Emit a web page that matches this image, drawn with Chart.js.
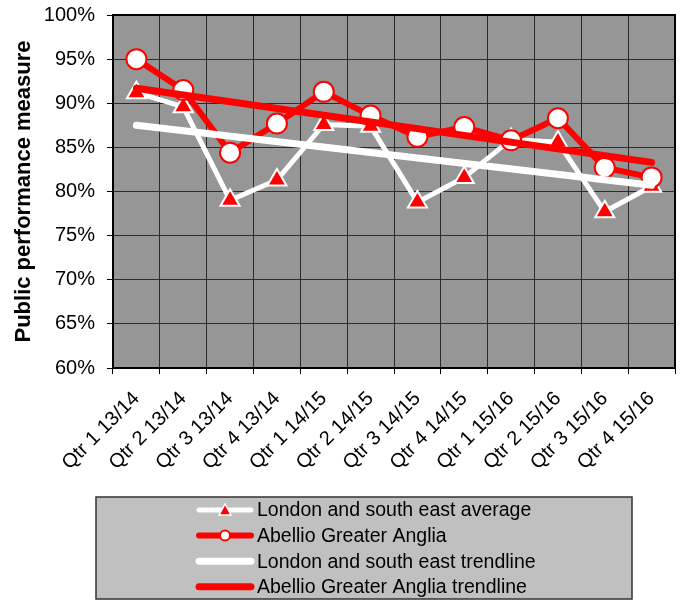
<!DOCTYPE html>
<html>
<head>
<meta charset="utf-8">
<script src="https://cdn.jsdelivr.net/npm/chart.js@4.4.1/dist/chart.umd.min.js"></script>
<style>
  html, body { margin: 0; padding: 0; background: #fff; }
  #wrap { width: 680px; height: 601px; position: relative; }
</style>
</head>
<body>
<div id="wrap"><canvas id="ppmChart" width="680" height="601"></canvas></div>
<script>
// quarters on the x axis
var quarters = ['Qtr 1 13/14', 'Qtr 2 13/14', 'Qtr 3 13/14', 'Qtr 4 13/14',
                'Qtr 1 14/15', 'Qtr 2 14/15', 'Qtr 3 14/15', 'Qtr 4 14/15',
                'Qtr 1 15/16', 'Qtr 2 15/16', 'Qtr 3 15/16', 'Qtr 4 15/16'];

// PPM values in percent
var londonAvg = [91.2, 89.6, 79.0, 81.3, 87.6, 87.4, 78.8, 81.6, 85.9, 85.6, 77.7, 80.6];
var abellio   = [95.0, 91.5, 84.4, 87.7, 91.3, 88.6, 86.2, 87.3, 85.8, 88.3, 82.7, 81.6];

// trendlines: only the two ends are known, the line is straight between them
var londonTrend  = [87.5, null, null, null, null, null, null, null, null, null, null, 80.7];
var abellioTrend = [91.7, null, null, null, null, null, null, null, null, null, null, 83.3];

var yTicks = [60, 65, 70, 75, 80, 85, 90, 95, 100];

var FONT = "'Liberation Sans', Arial, sans-serif";
var RED = '#ff0000';

// grey plot area + black frame
var plotArea = {
    id: 'plotArea',
    beforeDraw: function(chart) {
        var a = chart.chartArea, ctx = chart.ctx;
        ctx.save();
        ctx.fillStyle = '#969696';
        ctx.fillRect(a.left, a.top, a.right - a.left, a.bottom - a.top);
        ctx.restore();
    },
    beforeDatasetsDraw: function(chart) {
        var a = chart.chartArea, ctx = chart.ctx;
        ctx.save();
        ctx.strokeStyle = '#000';
        ctx.lineWidth = 2;
        ctx.strokeRect(a.left, a.top, a.right - a.left, a.bottom - a.top);
        ctx.restore();
    }
};

// legend in a grey box under the chart
var legendBox = {
    id: 'legendBox',
    afterDraw: function(chart) {
        var ctx = chart.ctx;
        ctx.save();
        ctx.fillStyle = '#c0c0c0';
        ctx.fillRect(96, 497, 536, 102);
        ctx.strokeStyle = '#333';
        ctx.lineWidth = 1.5;
        ctx.strokeRect(96, 497, 536, 102);

        var x0 = 199, x1 = 251, mid = 225;
        chart.data.datasets.forEach(function(ds, i) {
            var y = 510 + i * 25.6;
            ctx.lineCap = 'round';
            ctx.strokeStyle = ds.borderColor;
            ctx.lineWidth = ds.borderWidth;
            ctx.beginPath();
            ctx.moveTo(x0, y);
            ctx.lineTo(x1, y);
            ctx.stroke();
            if (ds.pointStyle === 'triangle') {
                ctx.fillStyle = RED;
                ctx.strokeStyle = '#fff';
                ctx.lineWidth = 1.5;
                ctx.beginPath();
                ctx.moveTo(mid, y - 6);
                ctx.lineTo(mid + 6, y + 5);
                ctx.lineTo(mid - 6, y + 5);
                ctx.closePath();
                ctx.fill();
                ctx.stroke();
            } else if (ds.pointRadius > 0) {
                ctx.fillStyle = '#fff';
                ctx.strokeStyle = RED;
                ctx.lineWidth = 2;
                ctx.beginPath();
                ctx.arc(mid, y, 5, 0, Math.PI * 2);
                ctx.fill();
                ctx.stroke();
            }
            ctx.fillStyle = '#000';
            ctx.font = '19.5px ' + FONT;
            ctx.textAlign = 'left';
            ctx.textBaseline = 'middle';
            ctx.fillText(ds.label, 257, y + 1);
        });
        ctx.restore();
    }
};

var ctx = document.getElementById('ppmChart').getContext('2d');
var ppmChart = new Chart(ctx, {
    type: 'line',
    data: {
        labels: quarters,
        datasets: [{
            label: 'London and south east average',
            data: londonAvg,
            borderColor: '#fff',
            borderWidth: 5,
            pointStyle: 'triangle',
            pointRadius: 11,
            pointBackgroundColor: RED,
            pointBorderColor: '#fff',
            pointBorderWidth: 2,
            order: 4
        }, {
            label: 'Abellio Greater Anglia',
            data: abellio,
            borderColor: RED,
            borderWidth: 6,
            pointStyle: 'circle',
            pointRadius: 10,
            pointBackgroundColor: '#fff',
            pointBorderColor: RED,
            pointBorderWidth: 2,
            order: 3
        }, {
            label: 'London and south east trendline',
            data: londonTrend,
            borderColor: '#fff',
            borderWidth: 7,
            borderCapStyle: 'round',
            pointRadius: 0,
            spanGaps: true,
            order: 2
        }, {
            label: 'Abellio Greater Anglia trendline',
            data: abellioTrend,
            borderColor: RED,
            borderWidth: 7,
            borderCapStyle: 'round',
            pointRadius: 0,
            spanGaps: true,
            order: 1
        }]
    },
    options: {
        responsive: false,
        animation: false,
        layout: { autoPadding: false, padding: { top: 15, right: 5, left: 0, bottom: 0 } },
        plugins: {
            legend: { display: false },
            tooltip: { enabled: false }
        },
        scales: {
            x: {
                offset: true,
                grid: { offset: true, color: '#2a2a2a', lineWidth: 1, tickLength: 6, tickColor: '#000' },
                border: { color: '#000', width: 2 },
                ticks: {
                    color: '#000',
                    font: { family: FONT, size: 20 },
                    minRotation: 45,
                    maxRotation: 45,
                    padding: 13,
                    autoSkip: false
                },
                afterFit: function(scale) {
                    scale.height = 233;
                    scale.paddingLeft = 0;
                    scale.paddingRight = 0;
                }
            },
            y: {
                min: 60,
                max: 100,
                afterBuildTicks: function(scale) {
                    scale.ticks = yTicks.map(function(v) { return { value: v }; });
                },
                grid: { color: '#2a2a2a', lineWidth: 1, tickLength: 6, tickColor: '#000' },
                border: { color: '#000', width: 2 },
                ticks: {
                    color: '#000',
                    font: { family: FONT, size: 20 },
                    padding: 12,
                    callback: function(v) { return v + '%'; }
                },
                title: {
                    display: true,
                    text: 'Public performance measure',
                    color: '#000',
                    font: { family: FONT, size: 22, weight: 'bold' },
                    padding: { top: 11, bottom: 0 }
                },
                afterFit: function(scale) {
                    scale.width = 113;
                    scale.paddingTop = 0;
                    scale.paddingBottom = 0;
                }
            }
        }
    },
    plugins: [plotArea, legendBox]
});
</script>
</body>
</html>
